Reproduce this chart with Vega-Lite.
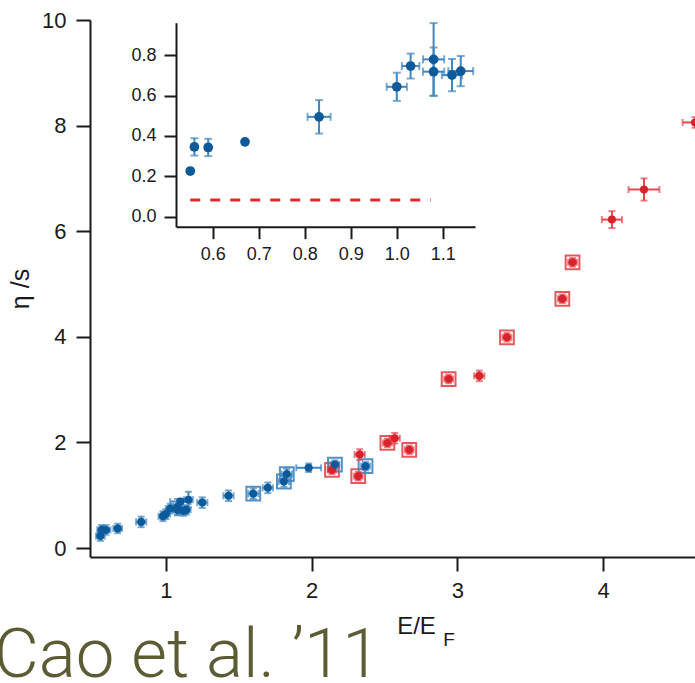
{
  "$schema": "https://vega.github.io/schema/vega-lite/v6.json",
  "width": 605,
  "height": 537,
  "autosize": {"type": "none"},
  "padding": {"left": 90, "top": 20, "right": 0, "bottom": 126},
  "background": "white",
  "title": {
    "text": "Cao et al. ’11",
    "orient": "bottom",
    "anchor": "start",
    "frame": "group",
    "font": "Roboto",
    "fontWeight": 300,
    "fontSize": 69,
    "color": "#5b5c34",
    "baseline": "alphabetic",
    "dx": -96,
    "offset": 27
  },
  "config": {
    "view": {"stroke": null},
    "axis": {
      "grid": false,
      "domainColor": "#1a1a1a",
      "domainWidth": 2,
      "tickColor": "#1a1a1a",
      "tickWidth": 2,
      "labelFont": "Liberation Sans",
      "labelColor": "#1a1a1a",
      "titleFont": "Liberation Sans",
      "titleColor": "#1a1a1a",
      "titleFontWeight": "normal"
    }
  },
  "datasets": {
    "main": [
      {"x": 0.551, "y": 0.226, "xe": 0.03, "ye": 0.09, "s": "b", "box": 0},
      {"x": 0.560, "y": 0.346, "xe": 0.03, "ye": 0.09, "s": "b", "box": 0},
      {"x": 0.590, "y": 0.343, "xe": 0.03, "ye": 0.09, "s": "b", "box": 0},
      {"x": 0.670, "y": 0.371, "xe": 0.03, "ye": 0.09, "s": "b", "box": 0},
      {"x": 0.831, "y": 0.495, "xe": 0.035, "ye": 0.1, "s": "b", "box": 0},
      {"x": 0.980, "y": 0.600, "xe": 0.03, "ye": 0.09, "s": "b", "box": 0},
      {"x": 1.000, "y": 0.644, "xe": 0.03, "ye": 0.09, "s": "b", "box": 0},
      {"x": 1.030, "y": 0.747, "xe": 0.03, "ye": 0.09, "s": "b", "box": 0},
      {"x": 1.080, "y": 0.780, "xe": 0.03, "ye": 0.15, "s": "b", "box": 0},
      {"x": 1.080, "y": 0.719, "xe": 0.03, "ye": 0.1, "s": "b", "box": 0},
      {"x": 1.120, "y": 0.702, "xe": 0.03, "ye": 0.09, "s": "b", "box": 0},
      {"x": 1.140, "y": 0.722, "xe": 0.03, "ye": 0.09, "s": "b", "box": 0},
      {"x": 1.100, "y": 0.880, "xe": 0.07, "ye": 0.05, "s": "b", "box": 0},
      {"x": 1.155, "y": 0.915, "xe": 0.03, "ye": 0.15, "s": "b", "box": 0},
      {"x": 1.250, "y": 0.860, "xe": 0.035, "ye": 0.1, "s": "b", "box": 0},
      {"x": 1.430, "y": 0.990, "xe": 0.035, "ye": 0.1, "s": "b", "box": 0},
      {"x": 1.600, "y": 1.030, "xe": 0.035, "ye": 0.1, "s": "b", "box": 1},
      {"x": 1.700, "y": 1.140, "xe": 0.035, "ye": 0.1, "s": "b", "box": 0},
      {"x": 1.810, "y": 1.260, "xe": 0.035, "ye": 0.1, "s": "b", "box": 1},
      {"x": 1.830, "y": 1.400, "xe": 0.035, "ye": 0.1, "s": "b", "box": 1},
      {"x": 1.980, "y": 1.520, "xe": 0.085, "ye": 0.08, "s": "b", "box": 0},
      {"x": 2.140, "y": 1.480, "xe": 0.03, "ye": 0.08, "s": "r", "box": 1},
      {"x": 2.160, "y": 1.580, "xe": 0.03, "ye": 0.08, "s": "b", "box": 1},
      {"x": 2.330, "y": 1.770, "xe": 0.035, "ye": 0.1, "s": "r", "box": 0},
      {"x": 2.320, "y": 1.360, "xe": 0.03, "ye": 0.08, "s": "r", "box": 1},
      {"x": 2.370, "y": 1.550, "xe": 0.03, "ye": 0.08, "s": "b", "box": 1},
      {"x": 2.520, "y": 1.990, "xe": 0.03, "ye": 0.08, "s": "r", "box": 1},
      {"x": 2.570, "y": 2.080, "xe": 0.035, "ye": 0.1, "s": "r", "box": 0},
      {"x": 2.670, "y": 1.860, "xe": 0.03, "ye": 0.08, "s": "r", "box": 1},
      {"x": 2.940, "y": 3.200, "xe": 0.03, "ye": 0.08, "s": "r", "box": 1},
      {"x": 3.150, "y": 3.260, "xe": 0.035, "ye": 0.1, "s": "r", "box": 0},
      {"x": 3.340, "y": 3.990, "xe": 0.03, "ye": 0.08, "s": "r", "box": 1},
      {"x": 3.720, "y": 4.720, "xe": 0.03, "ye": 0.08, "s": "r", "box": 1},
      {"x": 3.790, "y": 5.410, "xe": 0.03, "ye": 0.08, "s": "r", "box": 1},
      {"x": 4.060, "y": 6.220, "xe": 0.069, "ye": 0.16, "s": "r", "box": 0},
      {"x": 4.280, "y": 6.790, "xe": 0.106, "ye": 0.21, "s": "r", "box": 0},
      {"x": 4.630, "y": 8.060, "xe": 0.085, "ye": 0.1, "s": "r", "box": 0}
    ],
    "inset": [
      {"x": 0.551, "y": 0.226, "xe": 0.004, "ye": 0.008, "s": "b"},
      {"x": 0.560, "y": 0.346, "xe": 0.006, "ye": 0.043, "s": "b"},
      {"x": 0.590, "y": 0.343, "xe": 0.006, "ye": 0.043, "s": "b"},
      {"x": 0.670, "y": 0.371, "xe": 0.004, "ye": 0.008, "s": "b"},
      {"x": 0.831, "y": 0.495, "xe": 0.025, "ye": 0.083, "s": "b"},
      {"x": 1.000, "y": 0.644, "xe": 0.022, "ye": 0.07, "s": "b"},
      {"x": 1.030, "y": 0.747, "xe": 0.019, "ye": 0.062, "s": "b"},
      {"x": 1.080, "y": 0.780, "xe": 0.023, "ye": 0.18, "s": "b"},
      {"x": 1.080, "y": 0.719, "xe": 0.023, "ye": 0.12, "s": "b"},
      {"x": 1.120, "y": 0.702, "xe": 0.022, "ye": 0.08, "s": "b"},
      {"x": 1.139, "y": 0.722, "xe": 0.027, "ye": 0.075, "s": "b"}
    ],
    "bound": [
      {"x": 0.551, "x2": 1.074, "y": 0.082}
    ],
    "subscript": [
      {"t": "F", "x": 2.903, "y": -1.86}
    ]
  },
  "layer": [
    {
      "data": {"name": "main"},
      "encoding": {
        "x": {
          "field": "x", "type": "quantitative",
          "scale": {"domain": [0.48, 4.63], "nice": false, "zero": false},
          "axis": {
            "values": [1, 2, 3, 4], "tickSize": 14, "labelFontSize": 22, "labelPadding": 9,
            "title": "E/E", "titleFontSize": 24, "titleX": 326, "titleY": 76,
            "titleAlign": "center", "titleBaseline": "alphabetic"
          }
        },
        "y": {
          "field": "y", "type": "quantitative",
          "scale": {"domain": [-0.17, 10], "nice": false, "zero": false},
          "axis": {
            "values": [0, 2, 4, 6, 8, 10], "tickSize": 14, "labelFontSize": 22, "labelPadding": 10,
            "title": "η /s", "titleFontSize": 25, "titlePadding": 8
          }
        }
      },
      "layer": [
        {
          "transform": [{"filter": "datum.box == 1"}],
          "mark": {"type": "point", "shape": "square", "filled": false, "size": 190, "strokeWidth": 2, "opacity": 0.9},
          "encoding": {
            "stroke": {"field": "s", "type": "nominal", "legend": null,
              "scale": {"domain": ["b", "r"], "range": ["#3f86c2", "#e5474d"]}}
          }
        },
        {
          "mark": {"type": "errorbar", "ticks": {"size": 7}, "thickness": 2},
          "encoding": {
            "xError": {"field": "xe"},
            "color": {"field": "s", "type": "nominal", "legend": null,
              "scale": {"domain": ["b", "r"], "range": ["#3f86c2", "#e5474d"]}}
          }
        },
        {
          "mark": {"type": "errorbar", "ticks": {"size": 7}, "thickness": 2},
          "encoding": {
            "yError": {"field": "ye"},
            "color": {"field": "s", "type": "nominal", "legend": null,
              "scale": {"domain": ["b", "r"], "range": ["#3f86c2", "#e5474d"]}}
          }
        },
        {
          "mark": {"type": "circle", "size": 65, "opacity": 1},
          "encoding": {
            "fill": {"field": "s", "type": "nominal", "legend": null,
              "scale": {"domain": ["b", "r"], "range": ["#0d5a9b", "#d8232b"]}}
          }
        },
        {
          "data": {"name": "subscript"},
          "mark": {"type": "text", "font": "Liberation Sans", "fontSize": 19, "align": "left", "baseline": "alphabetic", "color": "#1a1a1a"},
          "encoding": {
            "text": {"field": "t"}
          }
        }
      ]
    },
    {
      "data": {"name": "inset"},
      "encoding": {
        "x": {
          "field": "x", "type": "quantitative",
          "scale": {"domain": [0.52, 1.17], "range": [86, 385], "nice": false, "zero": false},
          "axis": {
            "orient": "bottom", "offset": -330.3, "values": [0.6, 0.7, 0.8, 0.9, 1.0, 1.1], "format": ".1f",
            "tickSize": 12, "labelFontSize": 18, "labelPadding": 7, "title": null
          }
        },
        "y": {
          "field": "y", "type": "quantitative",
          "scale": {"domain": [-0.05, 0.962], "range": [206.7, 2.7], "nice": false, "zero": false},
          "axis": {
            "orient": "left", "offset": -86, "values": [0, 0.2, 0.4, 0.6, 0.8], "format": ".1f",
            "tickSize": 12, "labelFontSize": 18, "labelPadding": 8, "title": null
          }
        }
      },
      "layer": [
        {
          "data": {"name": "bound"},
          "mark": {"type": "rule", "color": "#e0282e", "strokeWidth": 3, "strokeDash": [10, 10]},
          "encoding": {
            "x2": {"field": "x2"}
          }
        },
        {
          "mark": {"type": "errorbar", "ticks": {"size": 8}, "thickness": 2, "color": "#3f86c2"},
          "encoding": {"xError": {"field": "xe"}}
        },
        {
          "mark": {"type": "errorbar", "ticks": {"size": 8}, "thickness": 2, "color": "#3f86c2"},
          "encoding": {"yError": {"field": "ye"}}
        },
        {
          "mark": {"type": "circle", "size": 95, "opacity": 1, "color": "#0d5a9b"}
        }
      ]
    }
  ],
  "resolve": {
    "scale": {"x": "independent", "y": "independent"},
    "axis": {"x": "independent", "y": "independent"}
  }
}
